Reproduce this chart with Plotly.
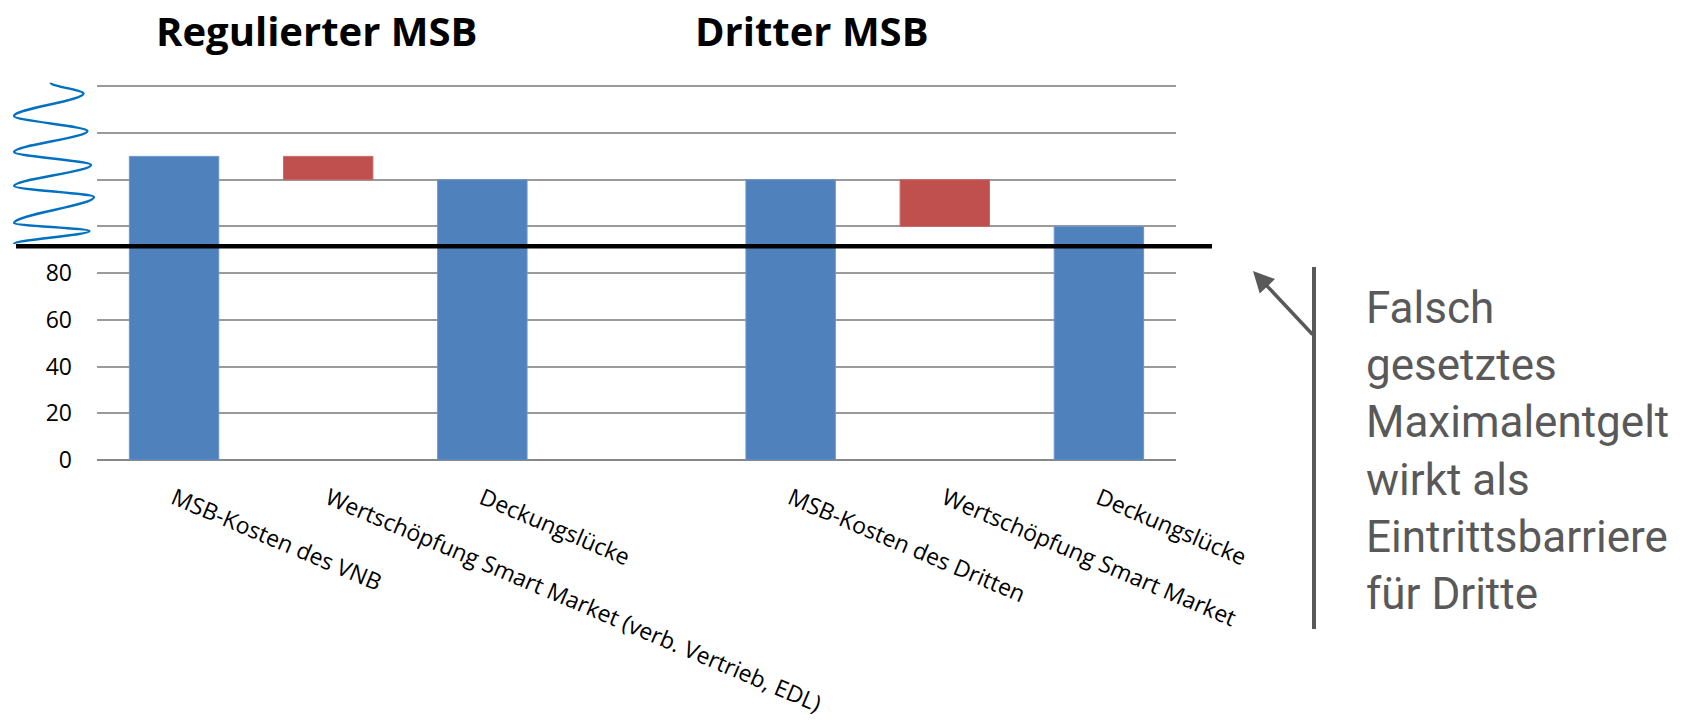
import plotly.graph_objects as go

# ---- data ----
categories = ["MSB-Kosten des VNB",
              "Wertschöpfung Smart Market (verb. Vertrieb, EDL)",
              "Deckungslücke",
              "",
              "MSB-Kosten des Dritten",
              "Wertschöpfung Smart Market",
              "Deckungslücke"]
blue_values = [130, None, 120, None, 120, None, 100]
red_base = [None, 120, None, None, None, 100, None]
red_values = [None, 10, None, None, None, 20, None]
max_entgelt = 91.5
y_ticks = [0, 20, 40, 60, 80, 100, 120, 140, 160]
y_ticktext = ["0", "20", "40", "60", "80", "", "", "", ""]
group_titles = ["Regulierter MSB", "Dritter MSB"]
note_lines = ["Falsch", "gesetztes", "Maximalentgelt", "wirkt als", "Eintrittsbarriere", "für Dritte"]

W, H = 1687, 727
Y_MAX = 161
L, R, B = 97, 1176, 460
T = round(B - Y_MAX * (460 - 86) / 160)  # so that 160 lands near pixel 86


def px(x):
    return (x - L) / (R - L)


def py(y):
    return (B - y) / (B - T)


xs = list(range(len(categories)))
fig = go.Figure()
fig.add_trace(go.Bar(x=xs, y=blue_values, base=0, width=0.58,
                     marker=dict(color="#4F81BD", line=dict(color="#6b95c8", width=1)),
                     showlegend=False))
fig.add_trace(go.Bar(x=xs, y=red_values, base=red_base, width=0.58,
                     marker=dict(color="#C0504D", line=dict(color="#c96a67", width=1)),
                     showlegend=False))

shapes = []
# max price line
shapes.append(dict(type="line", xref="paper", yref="y", x0=px(16), x1=px(1212),
                   y0=max_entgelt, y1=max_entgelt, line=dict(color="black", width=4.5)))
# axis-break wave (decorative)
pts = [(50.7, 82.7), (83.5, 93.5), (14, 116), (87.5, 131), (14, 152), (91, 165),
       (14, 186), (94, 197), (14, 223), (89.5, 231), (14, 244)]
path = f"M {px(pts[0][0])},{py(pts[0][1])}"
for (xa, ya), (xb, yb) in zip(pts[:-1], pts[1:]):
    k = 0.32
    c1 = (px(xa), py(ya + k * (yb - ya)))
    c2 = (px(xb), py(yb - k * (yb - ya)))
    path += f" C {c1[0]},{c1[1]} {c2[0]},{c2[1]} {px(xb)},{py(yb)}"
shapes.append(dict(type="path", xref="paper", yref="paper", path=path,
                   line=dict(color="#0070C0", width=2.4)))
# vertical bracket line of note
shapes.append(dict(type="line", xref="paper", yref="paper", x0=px(1314), x1=px(1314),
                   y0=py(267), y1=py(629), line=dict(color="#595959", width=4)))
fig.update_layout(shapes=shapes)

annotations = [
    dict(text=f"<b>{group_titles[0]}</b>", x=px(316), y=py(30), xref="paper", yref="paper",
         xanchor="center", yanchor="middle",
         showarrow=False, font=dict(family="Open Sans", size=40, color="black")),
    dict(text=f"<b>{group_titles[1]}</b>", x=px(812), y=py(30), xref="paper", yref="paper",
         xanchor="center", yanchor="middle",
         showarrow=False, font=dict(family="Open Sans", size=40, color="black")),
    dict(text="", x=px(1253), y=py(271), xref="paper", yref="paper", showarrow=True,
         ax=61, ay=65, arrowhead=2, arrowsize=1.2, arrowwidth=3.5, arrowcolor="#595959"),
    dict(text="<br>".join(note_lines), x=px(1364), y=py(451), xref="paper", yref="paper",
         xanchor="left", yanchor="middle", align="left", showarrow=False,
         font=dict(family="Roboto", size=44, color="#595959")),
]
fig.update_layout(annotations=annotations)

fig.update_layout(
    width=W, height=H,
    margin=dict(l=L, r=W - R, t=T, b=H - B, pad=0, autoexpand=False),
    paper_bgcolor="white", plot_bgcolor="white",
    barmode="overlay",
    xaxis=dict(range=[-0.5, 6.5], tickvals=xs, ticktext=categories, tickangle=23,
               showgrid=False, zeroline=False, showline=False, automargin=False,
               ticks="", ticklabelstandoff=20,
               tickfont=dict(family="Open Sans", size=23, color="black")),
    yaxis=dict(range=[0, Y_MAX], tickvals=y_ticks, ticktext=y_ticktext,
               showgrid=True, gridcolor="#9a9a9a", gridwidth=1.5, automargin=False,
               zeroline=True, zerolinecolor="#888888", zerolinewidth=2,
               showline=False, ticks="", ticklabelstandoff=24,
               tickfont=dict(family="Open Sans", size=23, color="black")),
)

fig.write_html("out.html")
